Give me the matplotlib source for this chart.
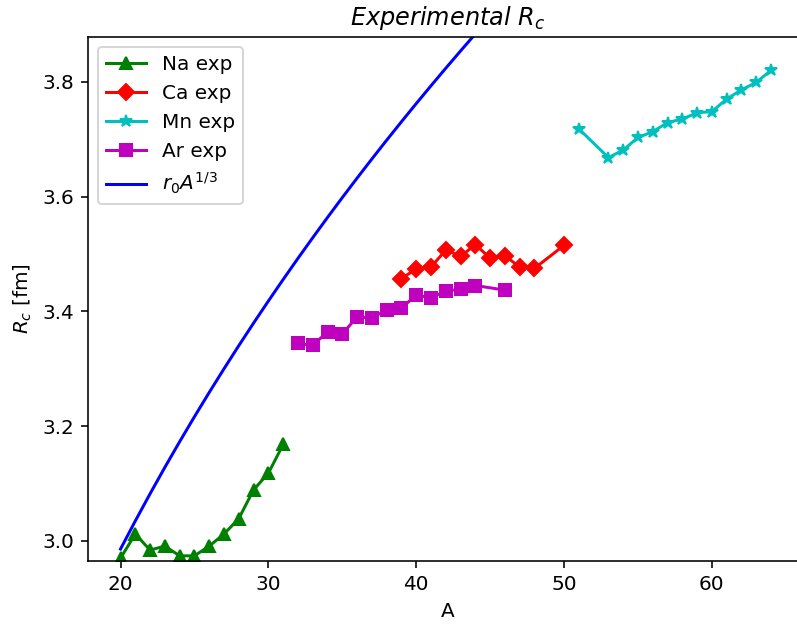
import numpy as np
import matplotlib.pyplot as plt

# Charge radii (fm) vs mass number
A_na = [20, 21, 22, 23, 24, 25, 26, 27, 28, 29, 30, 31]
R_na = [2.970, 3.012, 2.984, 2.991, 2.974, 2.974, 2.991, 3.012, 3.039, 3.089, 3.118, 3.168]

A_ca = [39, 40, 41, 42, 43, 44, 45, 46, 47, 48, 50]
R_ca = [3.457, 3.474, 3.477, 3.507, 3.496, 3.516, 3.493, 3.497, 3.477, 3.475, 3.515]

A_mn = [51, 53, 54, 55, 56, 57, 58, 59, 60, 61, 62, 63, 64]
R_mn = [3.718, 3.668, 3.681, 3.703, 3.713, 3.729, 3.735, 3.746, 3.748, 3.770, 3.786, 3.799, 3.820]

A_ar = [32, 33, 34, 35, 36, 37, 38, 39, 40, 41, 42, 43, 44, 46]
R_ar = [3.344, 3.341, 3.364, 3.361, 3.390, 3.389, 3.402, 3.406, 3.428, 3.424, 3.435, 3.439, 3.445, 3.437]

# liquid-drop estimate R = r0 * A^(1/3)
r0 = 1.1
A_model = np.arange(20, 65)

fig = plt.figure(figsize=(797 / 144, 632 / 144), dpi=144)
# axes run slightly past the right edge of the canvas
ax = fig.add_axes([88 / 797, 71 / 632, 720 / 797, 524 / 632])

ax.plot(A_na, R_na, 'g^-', label='Na exp')
ax.plot(A_ca, R_ca, 'rD-', label='Ca exp')
ax.plot(A_mn, R_mn, 'c*-', label='Mn exp')
ax.plot(A_ar, R_ar, 'ms-', label='Ar exp')
ax.plot(A_model, r0 * A_model ** (1 / 3), 'b-', label='$r_0A^{1/3}$')

ax.set_xlim(17.8, 66.5)
ax.set_ylim(2.965, 3.878)
ax.set_title('$Experimental\\ R_c$')
ax.set_xlabel('A')
ax.set_ylabel('$R_c$ [fm]')
ax.legend(loc='upper left')

fig.savefig('out.png', dpi=144)
